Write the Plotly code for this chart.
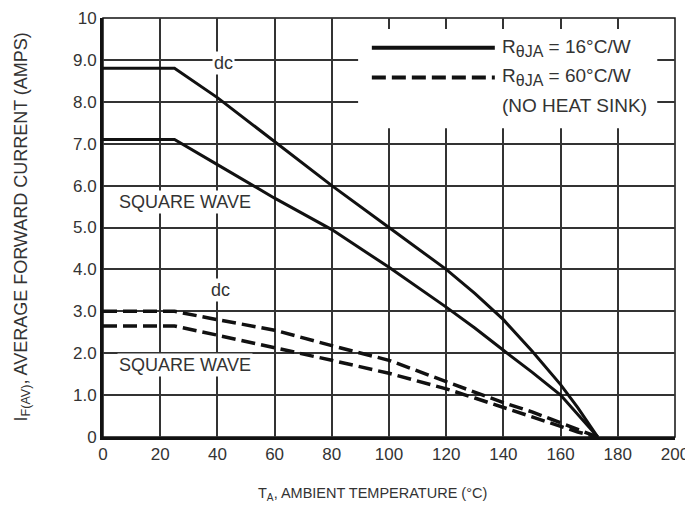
import plotly.graph_objects as go

# ambient temperature (°C)
temp = [0, 25, 40, 60, 80, 100, 120, 130, 140, 150, 160, 166, 173]

# average forward current (A)
dc_16 = [8.8, 8.8, 8.1, 7.05, 6.0, 5.0, 4.0, 3.43, 2.8, 2.05, 1.25, 0.7, 0]
sq_16 = [7.1, 7.1, 6.5, 5.7, 4.95, 4.05, 3.1, 2.6, 2.07, 1.55, 1.0, 0.55, 0]
dc_60 = [3.0, 3.0, 2.8, 2.55, 2.18, 1.83, 1.32, 1.07, 0.82, 0.6, 0.35, 0.18, 0]
sq_60 = [2.65, 2.65, 2.43, 2.14, 1.83, 1.52, 1.15, 0.93, 0.7, 0.48, 0.25, 0.12, 0]

x_ticks = [0, 20, 40, 60, 80, 100, 120, 140, 160, 180, 200]
y_ticks = [0, 1, 2, 3, 4, 5, 6, 7, 8, 9, 10]
y_labels = ['0', '1.0', '2.0', '3.0', '4.0', '5.0', '6.0', '7.0', '8.0', '9.0', '10']

FONT = 'Liberation Sans, Arial, sans-serif'
INK = '#111111'
GRID = '#333333'
TXT = '#333333'

fig = go.Figure()

for ys in [dc_16, sq_16]:
    fig.add_trace(go.Scatter(x=temp, y=ys, mode='lines',
                             line=dict(color=INK, width=3), showlegend=False))
for ys in [dc_60, sq_60]:
    fig.add_trace(go.Scatter(x=temp, y=ys, mode='lines',
                             line=dict(color=INK, width=3.5, dash='14px,6px'),
                             showlegend=False))

# curve labels (white boxes break the grid like the original)
labels = [
    (42, 8.93, 'dc'),
    (28.5, 5.6, 'SQUARE WAVE'),
    (41, 3.5, 'dc'),
    (28.5, 1.72, 'SQUARE WAVE'),
]
for lx, ly, txt in labels:
    fig.add_annotation(x=lx, y=ly, text=txt, showarrow=False,
                       bgcolor='white', borderpad=1,
                       font=dict(family=FONT, size=18, color=TXT))

# legend box drawn by hand
fig.add_shape(type='rect', xref='paper', yref='paper',
              x0=0.446, x1=0.969, y0=0.737, y1=0.974,
              fillcolor='white', line=dict(width=0), layer='above')
fig.add_shape(type='line', xref='paper', yref='paper',
              x0=0.47, x1=0.685, y0=0.929, y1=0.929,
              line=dict(color=INK, width=4), layer='above')
fig.add_shape(type='line', xref='paper', yref='paper',
              x0=0.47, x1=0.685, y0=0.858, y1=0.858,
              line=dict(color=INK, width=4, dash='14px,6px'), layer='above')
sub = '<sub><span style="font-size:16px">θJA</span></sub>'
legend_text = [
    (0.929, 'R' + sub + ' = 16°C/W'),
    (0.858, 'R' + sub + ' = 60°C/W'),
    (0.79, '(NO HEAT SINK)'),
]
for ly, txt in legend_text:
    fig.add_annotation(xref='paper', yref='paper', x=0.694, y=ly, text=txt,
                       xanchor='left', yanchor='middle', showarrow=False,
                       font=dict(family=FONT, size=19, color=TXT))

# axis titles
fig.add_annotation(xref='paper', yref='paper', x=0.472, y=-0.135,
                   text='T<sub>A</sub>, AMBIENT TEMPERATURE (°C)',
                   showarrow=False, xanchor='center', yanchor='middle',
                   font=dict(family=FONT, size=14.5, color=TXT))
fig.add_annotation(xref='paper', yref='paper', x=-0.1416, y=0.5,
                   text='I<sub>F(AV)</sub>, AVERAGE FORWARD CURRENT (AMPS)',
                   textangle=-90, showarrow=False,
                   xanchor='center', yanchor='middle',
                   font=dict(family=FONT, size=18, color=TXT))

# page body adds an 8px offset, so the figure is drawn 8px smaller
fig.update_layout(
    width=685, height=507,
    margin=dict(l=95, r=18, t=10, b=78),
    plot_bgcolor='white',
    paper_bgcolor='white',
    font=dict(family=FONT, color=TXT),
    showlegend=False,
    xaxis=dict(
        range=[0, 200], tickvals=x_ticks, automargin=False,
        ticklabeloverflow='allow',
        showgrid=True, gridcolor=GRID, gridwidth=1.5,
        zeroline=False, showline=True, linecolor=INK, linewidth=3,
        ticks='', tickfont=dict(size=17),
    ),
    yaxis=dict(
        range=[0, 10], tickvals=y_ticks, ticktext=y_labels, automargin=False,
        ticklabeloverflow='allow',
        showgrid=True, gridcolor=GRID, gridwidth=1.5,
        zeroline=False, showline=True, linecolor=INK, linewidth=3,
        ticks='', tickfont=dict(size=17),
    ),
)

# thin top and right frame
fig.add_shape(type='rect', xref='paper', yref='paper', x0=0, x1=1, y0=0, y1=1,
              line=dict(color=INK, width=1.5), layer='below')

fig.write_html("out.html")
